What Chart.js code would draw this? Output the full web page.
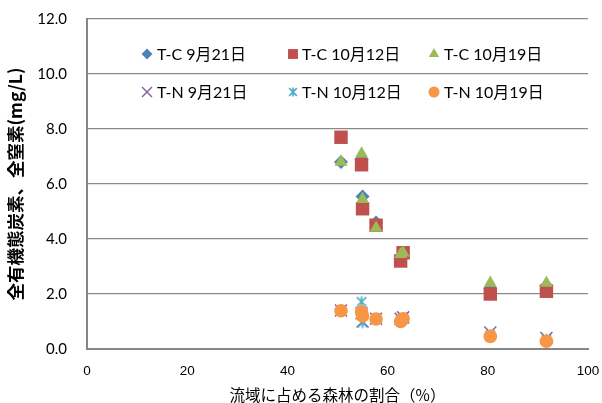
<!DOCTYPE html>
<html>
<head>
<meta charset="utf-8">
<style>
  html, body { margin: 0; padding: 0; background: #fff; }
  #wrap { width: 602px; height: 403px; }
</style>
<script src="https://cdn.jsdelivr.net/npm/chart.js@4/dist/chart.umd.min.js"></script>
</head>
<body>
<div id="wrap"><canvas id="c" width="602" height="403"></canvas></div>
<script>
// Forest share of each catchment (%)
const forestShare = [50.7, 54.8, 55.0, 57.7, 62.6, 63.1, 80.5, 91.7];

// Total organic carbon (mg/L)
const tc0921 = [6.8, 6.9, 5.55, 4.6, 3.3, 3.5, 2.2, 2.3];
const tc1012 = [7.7, 6.7, 5.1, 4.5, 3.2, 3.5, 2.0, 2.1];
const tc1019 = [6.8, 7.1, 5.45, 4.4, 3.45, 3.5, 2.4, 2.4];

// Total nitrogen (mg/L)
const tn0921 = [1.4, 1.3, 1.0, 1.1, 1.1, 1.15, 0.6, 0.4];
const tn1012 = [1.4, 1.72, 0.96, 1.1, 1.05, 1.1, 0.5, 0.35];
const tn1019 = [1.39, 1.35, 1.2, 1.09, 1.0, 1.1, 0.46, 0.28];

const seriesLabels = ['T-C 9月21日', 'T-C 10月12日', 'T-C 10月19日',
                      'T-N 9月21日', 'T-N 10月12日', 'T-N 10月19日'];
const xTicks = [0, 20, 40, 60, 80, 100];
const yTicks = [0, 2, 4, 6, 8, 10, 12];

const toPoints = ys => ys.map((y, i) => ({ x: forestShare[i], y }));

// six-armed asterisk marker
function makeAsterisk(size, color) {
  const cv = document.createElement('canvas');
  cv.width = size; cv.height = size;
  const g = cv.getContext('2d');
  g.strokeStyle = color;
  g.lineWidth = 1.6;
  const m = size / 2, a = size / 2 - 1.5;
  g.beginPath();
  g.moveTo(m - a * 0.85, m - a * 0.85); g.lineTo(m + a * 0.85, m + a * 0.85);
  g.moveTo(m + a * 0.85, m - a * 0.85); g.lineTo(m - a * 0.85, m + a * 0.85);
  g.moveTo(m, m - a); g.lineTo(m, m + a);
  g.stroke();
  return cv;
}
const asteriskBig = makeAsterisk(14, '#4bacc6');
const asteriskSmall = makeAsterisk(12, '#4bacc6');

const styles = [
  { pointStyle: 'rectRot',  color: '#4f81bd', r: 7,   lr: 5.5, order: 6 },
  { pointStyle: 'rect',     color: '#c0504d', r: 9.5, lr: 7,   order: 5 },
  { pointStyle: 'triangle', color: '#9bbb59', r: 7.5, lr: 6,   order: 4 },
  { pointStyle: 'crossRot', color: '#8064a2', r: 8.5, lr: 7,   order: 3, line: true },
  { pointStyle: asteriskBig, legendStyle: asteriskSmall, color: '#4bacc6', r: 7, lr: 6, order: 2, line: true },
  { pointStyle: 'circle',   color: '#f79646', r: 6.8, lr: 5.5, order: 1 }
];
const seriesValues = [tc0921, tc1012, tc1019, tn0921, tn1012, tn1019];

const datasets = seriesValues.map((vals, i) => {
  const s = styles[i];
  return {
    label: seriesLabels[i],
    data: toPoints(vals),
    order: s.order,
    pointStyle: s.pointStyle,
    pointRadius: s.r,
    pointHoverRadius: s.r,
    pointBackgroundColor: s.color,
    pointBorderColor: s.color,
    pointBorderWidth: s.line ? 1.5 : 0,
    showLine: false
  };
});

// two-row legend drawn inside the plot area
const legendLayout = {
  id: 'legendLayout',
  afterDatasetsDraw(chart) {
    const ctx = chart.ctx;
    const cols = [{ m: 147, t: 157 }, { m: 293, t: 302 }, { m: 434, t: 444 }];
    const rows = [54, 92];
    ctx.save();
    ctx.font = '16px Lato, "Noto Sans CJK JP", sans-serif';
    ctx.fillStyle = '#000';
    ctx.textBaseline = 'middle';
    ctx.textAlign = 'left';
    seriesLabels.forEach((lab, i) => {
      const s = styles[i];
      const c = cols[i % 3], y = rows[Math.floor(i / 3)];
      const opts = {
        pointStyle: s.legendStyle || s.pointStyle,
        radius: s.lr,
        rotation: 0,
        borderWidth: s.line ? 1.5 : 0
      };
      ctx.fillStyle = s.color;
      ctx.strokeStyle = s.color;
      ctx.lineWidth = opts.borderWidth;
      Chart.helpers.drawPoint(ctx, opts, c.m, y);
      ctx.fillStyle = '#000';
      ctx.fillText(lab, c.t, y + 1);
    });
    ctx.restore();
  }
};

new Chart(document.getElementById('c'), {
  type: 'scatter',
  data: { datasets },
  plugins: [legendLayout],
  options: {
    responsive: false,
    animation: false,
    devicePixelRatio: 1,
    layout: { autoPadding: false, padding: { left: 0, top: 19, right: 14, bottom: 0 } },
    plugins: { legend: { display: false }, tooltip: { enabled: false } },
    scales: {
      x: {
        type: 'linear',
        min: 0, max: 100,
        afterBuildTicks: s => { s.ticks = xTicks.map(v => ({ value: v })); },
        afterFit: s => { s.height = 54; s.paddingLeft = 0; s.paddingRight = 0; },
        grid: { display: false, drawTicks: false },
        border: { display: true, color: '#868686', width: 2 },
        ticks: {
          color: '#000',
          padding: 14,
          font: { family: '"Liberation Sans", Arial, sans-serif', size: 13.5 },
          maxRotation: 0
        },
        title: {
          display: true,
          text: '流域に占める森林の割合（%）',
          color: '#000',
          font: { family: '"Noto Sans CJK JP", sans-serif', size: 15.5, lineHeight: 1 },
          padding: { top: 0, bottom: 0 }
        }
      },
      y: {
        type: 'linear',
        min: 0, max: 12,
        afterBuildTicks: s => { s.ticks = yTicks.map(v => ({ value: v })); },
        afterFit: s => { s.width = 87; s.paddingTop = 0; s.paddingBottom = 0; },
        grid: { color: '#8a8a8a', lineWidth: 1.3, drawTicks: false },
        border: { display: true, color: '#868686', width: 2 },
        ticks: {
          color: '#000',
          padding: 20,
          font: { family: 'Lato, sans-serif', size: 15 },
          callback: v => v.toFixed(1)
        },
        title: {
          display: true,
          text: '全有機態炭素、全窒素(mg/L)',
          color: '#000',
          font: { family: '"Noto Sans CJK JP", sans-serif', size: 17.5, weight: 'bold' },
          padding: { top: 5, bottom: 0 }
        }
      }
    }
  }
});
</script>
</body>
</html>
